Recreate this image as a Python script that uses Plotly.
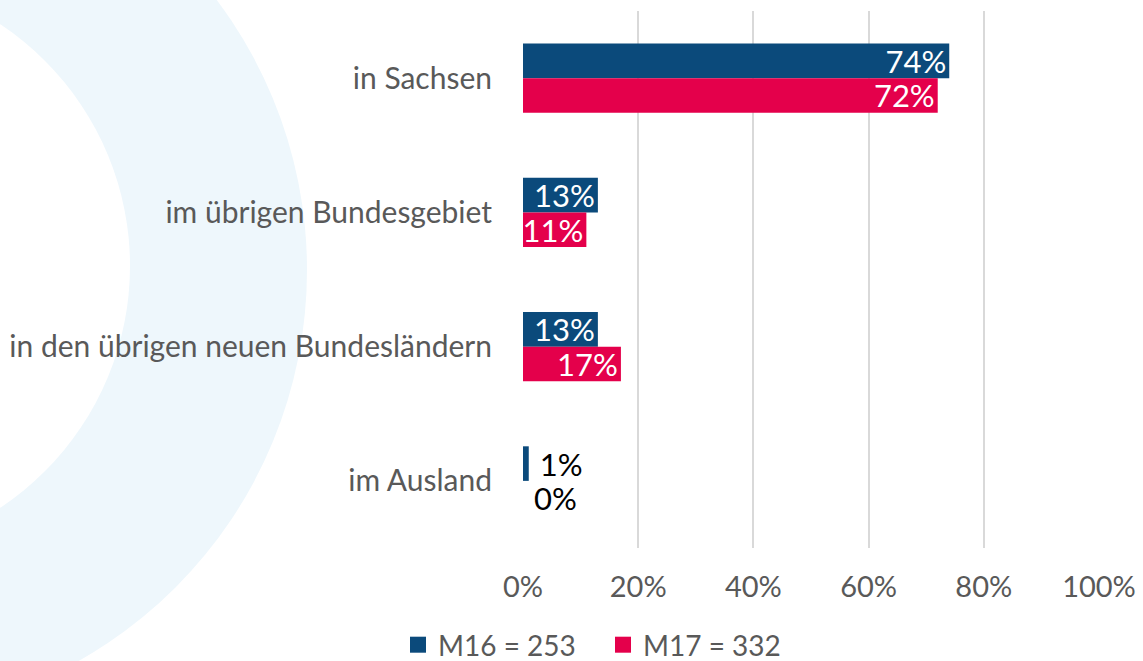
import plotly.graph_objects as go

categories = ["in Sachsen", "im übrigen Bundesgebiet",
              "in den übrigen neuen Bundesländern", "im Ausland"]
m16_values = [0.74, 0.13, 0.13, 0.01]
m17_values = [0.72, 0.11, 0.17, 0.00]
series_names = ["M16 = 253", "M17 = 332"]
x_ticks = [0, 0.2, 0.4, 0.6, 0.8, 1.0]
x_tick_labels = ["0%", "20%", "40%", "60%", "80%", "100%"]

# body margin is removed in the page, so the figure fills the window
W, H = 1143, 661
L, R, T, B = 523, 44, 11, 113
PW, PH = W - L - R, H - T - B

def px2paper(x, y):
    return (x - L) / PW, (H - B - y) / PH

FONT = "Lato"
GRAY = "#595959"
C16 = "#0b4a7b"
C17 = "#e4004b"
FS_CAT, FS_TICK, FS_DATA, FS_LEG = 30, 29, 31, 28

def positions(vals):
    return ["outside" if v < 0.05 else "inside" for v in vals]

def labels(vals):
    return [("\u00a0" if v < 0.05 else "") + f"{round(v*100)}%" for v in vals]

fig = go.Figure()
for name, vals, col in [(series_names[0], m16_values, C16), (series_names[1], m17_values, C17)]:
    fig.add_trace(go.Bar(
        y=categories, x=vals, name=name, orientation="h", showlegend=False,
        marker=dict(color=col, line=dict(width=0)),
        text=labels(vals),
        textposition=positions(vals),
        insidetextanchor="end", constraintext="none",
        insidetextfont=dict(color="white", size=FS_DATA, family=FONT),
        outsidetextfont=dict(color="black", size=FS_DATA, family=FONT),
        textangle=0, cliponaxis=False,
    ))
# legend entries with larger square swatches
for name, col in [(series_names[0], C16), (series_names[1], C17)]:
    fig.add_trace(go.Scatter(x=[None], y=[None], mode="markers", name=name,
                             marker=dict(symbol="square", size=16, color=col)))

# decorative background ring
def circle(cx, cy, r, color):
    x0, y0 = px2paper(cx - r, cy + r)
    x1, y1 = px2paper(cx + r, cy - r)
    return dict(type="circle", xref="paper", yref="paper", x0=x0, y0=y0, x1=x1, y1=y1,
                fillcolor=color, line=dict(width=0), layer="below")

shapes = [circle(-142, 270, 449, "#eef7fc"), circle(-160, 266, 290, "#ffffff")]

lx, ly = px2paper(398, 645)
fig.update_layout(
    width=W, height=H,
    margin=dict(l=L, r=R, t=T, b=B, autoexpand=False),
    paper_bgcolor="white", plot_bgcolor="rgba(0,0,0,0)",
    barmode="group", bargap=0.485, bargroupgap=0,
    shapes=shapes,
    showlegend=True,
    legend=dict(orientation="h", x=lx, y=ly, xanchor="left", yanchor="middle",
                font=dict(size=FS_LEG, color=GRAY, family=FONT), traceorder="normal",
                itemsizing="trace", itemwidth=30, entrywidth=160, entrywidthmode="pixels",
                bgcolor="rgba(0,0,0,0)"),
    font=dict(family=FONT, color=GRAY),
)
fig.update_xaxes(range=[0, 1], tickvals=x_ticks, ticktext=x_tick_labels,
                 showgrid=True, gridcolor="#d9d9d9", gridwidth=2,
                 zeroline=False, showline=False,
                 ticks="outside", ticklen=13, tickcolor="rgba(0,0,0,0)",
                 tickfont=dict(size=FS_TICK, color=GRAY, family=FONT), fixedrange=True)
fig.update_yaxes(autorange="reversed", showgrid=False, zeroline=False, showline=False,
                 ticks="outside", ticklen=24, tickcolor="rgba(0,0,0,0)",
                 tickfont=dict(size=FS_CAT, color=GRAY, family=FONT), fixedrange=True)

fig.write_html("out.html", config={"displayModeBar": False},
               post_script="document.body.style.margin='0px';document.body.style.overflow='hidden';")
